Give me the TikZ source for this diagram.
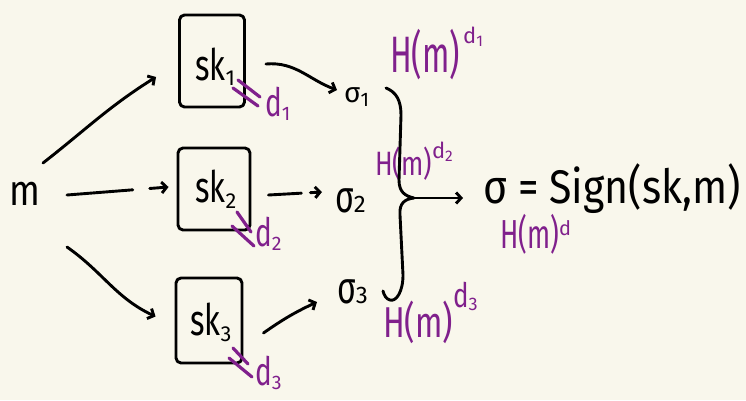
\documentclass[tikz,border=0pt]{standalone}
\usepackage{fontspec}
\setmainfont{Fira Sans}
\usetikzlibrary{arrows.meta}
\definecolor{bgc}{RGB}{249,247,236}
\definecolor{purp}{RGB}{128,32,140}
\newcommand{\fsz}[1]{\fontsize{#1}{#1}\selectfont}
\newcommand{\stretchy}[2]{\scalebox{1}[#1]{#2}}
\newcommand{\hsup}[3]{\raisebox{#1}{\fsz{#2}#3}}
\begin{document}
\begin{tikzpicture}[x=1pt,y=-1pt,
  ink/.style={draw=black, line width=2.9pt, line cap=round, line join=round},
  arr/.style={ink, -{Straight Barb[length=5pt,width=11pt]}},
  box/.style={ink, rounded corners=5pt, inner sep=0pt},
  lbl/.style={inner sep=0pt, anchor=base west, text=black},
  plbl/.style={inner sep=0pt, anchor=base west, text=purp},
  pmark/.style={draw=purp, line width=3.2pt, line cap=round}]
\fill[bgc] (0,0) rectangle (746,400);
\useasboundingbox (0,0) rectangle (746,400);

% message
\node[lbl, font=\fsz{36}] (m) at (9,205) {\stretchy{1.2}{m}};

% key boxes
\node[box, minimum width=65pt, minimum height=92pt] (b1) at (212,61) {};
\node[box, minimum width=72pt, minimum height=82pt] (b2) at (214,189) {};
\node[box, minimum width=66pt, minimum height=85pt] (b3) at (209,320.5) {};
\node[lbl, font=\fsz{31}] (k1) at (195,80) {\stretchy{1.4}{sk}\textsubscript{1}};
\node[lbl, font=\fsz{31}] (k2) at (195,202) {\stretchy{1.4}{sk}\textsubscript{2}};
\node[lbl, font=\fsz{31}] (k3) at (190,335) {\stretchy{1.4}{sk}\textsubscript{3}};

% partial signatures
\node[lbl, font=\fsz{28}] (s1) at (344,102) {σ\textsubscript{1}};
\node[lbl, font=\fsz{32}] (s2) at (335,212) {\stretchy{1.4}{σ}{\fsz{24}2}};
\node[lbl, font=\fsz{32}] (s3) at (337,303) {\stretchy{1.4}{σ}{\fsz{24}3}};

% result
\node[lbl, font=\fsz{41}] (res) at (483,203) {\stretchy{1.15}{σ = Sign(sk,m)}};

% purple shares
\node[plbl, font=\fsz{28}] (d1) at (265,116) {\stretchy{1.4}{d}\textsubscript{1}};
\node[plbl, font=\fsz{28}] (d2) at (255,246) {\stretchy{1.4}{d}\textsubscript{2}};
\node[plbl, font=\fsz{28}] (d3) at (255,385) {\stretchy{1.4}{d}\textsubscript{3}};
\draw[pmark] ([shift={(26,19)}]b1.center) -- ++(22,17);
\draw[pmark] ([shift={(21,27)}]b1.center) -- ++(25,18);
\draw[pmark] ([shift={(23,23)}]b2.center) -- ++(14,20);
\draw[pmark] ([shift={(18,37)}]b2.center) -- ++(22,20);
\draw[pmark] ([shift={(24,27.5)}]b3.center) -- ++(15,16);
\draw[pmark] ([shift={(20,37.5)}]b3.center) -- ++(23,19);

\node[plbl, font=\fsz{32}] (h1) at (390,72) {\stretchy{1.6}{H(m)}\hspace{3pt}\hsup{29pt}{22pt}{d\textsubscript{1}}};
\node[plbl, font=\fsz{26}] (h2) at (375,175) {\stretchy{1.3}{H(m)}\hsup{17pt}{22pt}{d\textsubscript{2}}};
\node[plbl, font=\fsz{32}] (h3) at (383,337) {\stretchy{1.35}{H(m)}\hsup{30pt}{26pt}{\stretchy{1.3}{d}\textsubscript{3}}};
\node[plbl, font=\fsz{27}] (hd) at (500,248) {\stretchy{1.5}{H(m)}\hsup{13pt}{20pt}{d}};

% arrows from m
\draw[arr] ([shift={(34,-42)}]m.base west) to[out=38,in=212] ([shift={(-22,16)}]b1.west);
\draw[arr, dash pattern=on 66pt off 17pt on 30pt] ([shift={(58,-10)}]m.base west) -- ([shift={(-8,-2)}]b2.west);
\draw[arr] ([shift={(58,42)}]m.base west) to[out=-35,in=155] ([shift={(-19,-4)}]b3.west);

% arrows to partial signatures
\draw[arr] ([shift={(20,3)}]b1.east) to[out=5,in=160] ([shift={(-7,-12)}]s1.base west);
\draw[arr, dash pattern=on 33pt off 9pt on 20pt] ([shift={(17,6)}]b2.east) -- ([shift={(-13,-20)}]s2.base west);
\draw[arr] ([shift={(20,12.5)}]b3.east) to[out=35,in=205] ([shift={(-20,-1)}]s3.base west);

% brace and combining arrow
\coordinate (cusp) at (414,198);
\draw[ink] (386,88) .. controls (396,92) and (401,100) .. (401,115)
  -- (399,180) .. controls (399,192) and (405,196) .. (cusp)
  .. controls (405,199) and (399,203) .. (400,215)
  -- (403,275) .. controls (403,292) and (396,302) .. (390,300)
  .. controls (386,299) and (384,295) .. (383,291);
\draw[arr, shorten >=20pt] (cusp) -- (cusp -| res.west);
\end{tikzpicture}
\end{document}
